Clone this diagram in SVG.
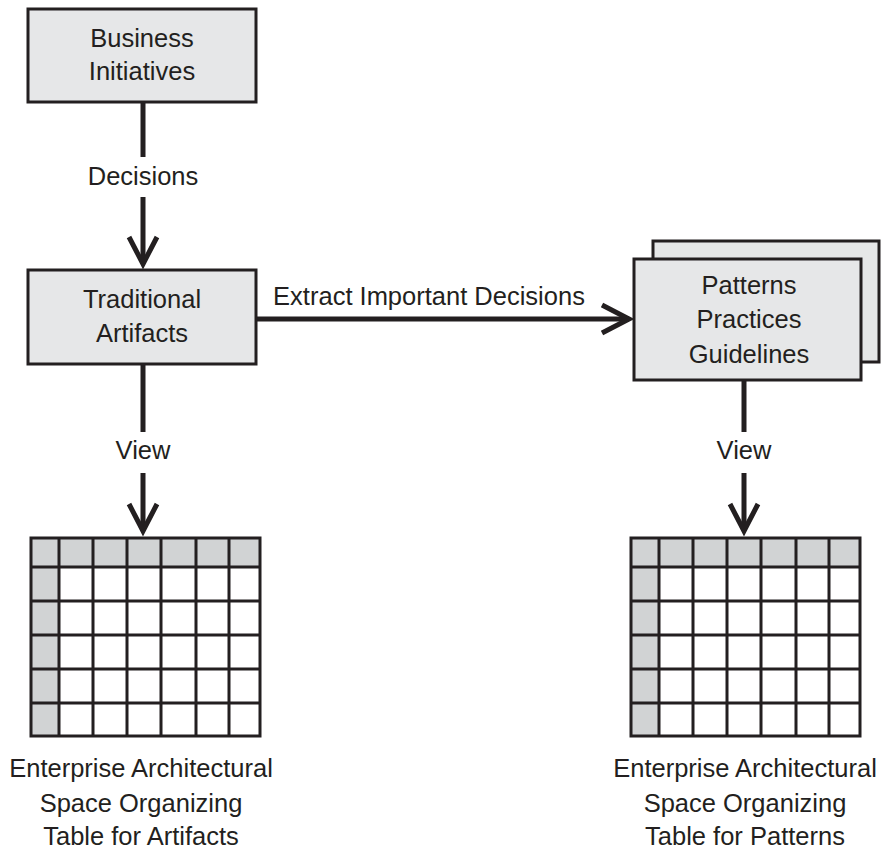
<svg xmlns="http://www.w3.org/2000/svg" width="883" height="853" viewBox="0 0 883 853">
  <style>
    .box { fill: #e6e7e8; stroke: #231f20; stroke-width: 3; }
    .lbl { font-family: "Liberation Sans", Arial, sans-serif; font-size: 25.5px; fill: #231f20; text-anchor: middle; }
    .wire { fill: none; stroke: #231f20; stroke-width: 5; }
    .head { fill: none; stroke: #231f20; stroke-width: 5; stroke-linejoin: miter; stroke-miterlimit: 10; }
    .hdr { fill: #d1d3d4; }
    .grid { fill: none; stroke: #231f20; stroke-width: 3; }
  </style>
  <defs>
    <!-- organizing table: header row + first column shaded, 7 columns x 6 rows -->
    <g id="table">
      <rect x="0" y="0" width="229" height="198" fill="#ffffff"/>
      <rect class="hdr" x="0" y="0" width="229" height="29"/>
      <rect class="hdr" x="0" y="0" width="28" height="198"/>
      <path class="grid" d="M28 0V198M62 0V198M96 0V198M130 0V198M165 0V198M198 0V198
                            M0 29H229M0 63H229M0 97H229M0 131H229M0 165H229"/>
      <rect class="grid" x="0" y="0" width="229" height="198"/>
    </g>
  </defs>

  <rect width="883" height="853" fill="#ffffff"/>

  <g id="connectors">
    <!-- Business Initiatives -> Traditional Artifacts -->
    <path class="wire" d="M143 102V157M143 197V264"/>
    <path class="head" d="M129 237L143 264L157 237"/>
    <text class="lbl" x="143" y="185">Decisions</text>

    <!-- Traditional Artifacts -> Patterns -->
    <path class="wire" d="M256 319H628"/>
    <path class="head" d="M602 305L629 319L602 333"/>
    <text class="lbl" x="429" y="305">Extract Important Decisions</text>

    <!-- Traditional Artifacts -> table -->
    <path class="wire" d="M143 364V432M143 473V531"/>
    <path class="head" d="M129 504L143 531L157 504"/>
    <text class="lbl" x="143" y="459">View</text>

    <!-- Patterns -> table -->
    <path class="wire" d="M744 380V432M744 473V531"/>
    <path class="head" d="M730 504L744 531L758 504"/>
    <text class="lbl" x="744" y="459">View</text>
  </g>

  <g id="business-initiatives">
    <rect class="box" x="28" y="9" width="228" height="93"/>
    <text class="lbl" x="142" y="47">Business</text>
    <text class="lbl" x="142" y="80">Initiatives</text>
  </g>

  <g id="traditional-artifacts">
    <rect class="box" x="28" y="270" width="228" height="94"/>
    <text class="lbl" x="142" y="308">Traditional</text>
    <text class="lbl" x="142" y="342">Artifacts</text>
  </g>

  <g id="patterns">
    <rect class="box" x="653" y="241" width="226" height="121"/>
    <rect class="box" x="634" y="259" width="227" height="121"/>
    <text class="lbl" x="749" y="294">Patterns</text>
    <text class="lbl" x="749" y="328">Practices</text>
    <text class="lbl" x="749" y="363">Guidelines</text>
  </g>

  <g id="artifacts-table">
    <use href="#table" x="31" y="538"/>
    <text class="lbl" x="141" y="777">Enterprise Architectural</text>
    <text class="lbl" x="141" y="812">Space Organizing</text>
    <text class="lbl" x="141" y="845">Table for Artifacts</text>
  </g>

  <g id="patterns-table">
    <use href="#table" x="631" y="538"/>
    <text class="lbl" x="745" y="777">Enterprise Architectural</text>
    <text class="lbl" x="745" y="812">Space Organizing</text>
    <text class="lbl" x="745" y="845">Table for Patterns</text>
  </g>
</svg>
